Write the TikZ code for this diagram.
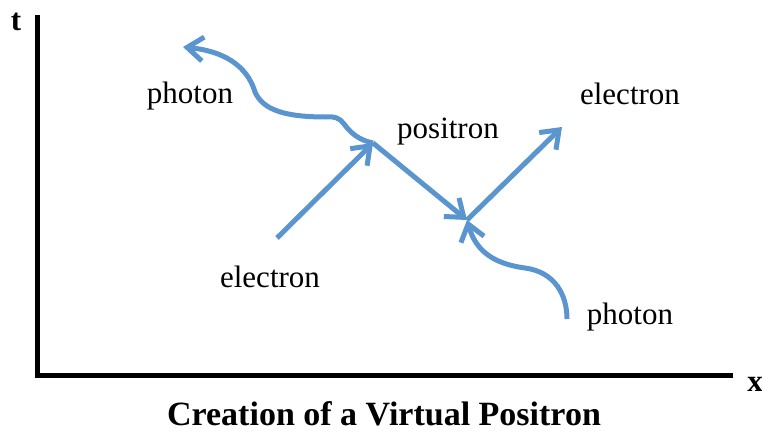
\documentclass[tikz,border=0pt]{standalone}
\usepackage{fontspec}
\setmainfont{Liberation Serif}
\usepackage{xcolor}
\definecolor{FeynBlue}{HTML}{5A95CF}
\usetikzlibrary{arrows.meta}

\begin{document}
\begin{tikzpicture}[x=1pt, y=-1pt,
    particle/.style={FeynBlue, line width=5pt, line cap=butt,
      -{Straight Barb[length=16pt, width=24pt, line width=5pt]}},
    axis/.style={black, line width=5pt, line join=miter},
    lbl/.style={font=\fontsize{31}{36}\selectfont, inner sep=0pt},
    axlbl/.style={font=\fontsize{31}{36}\selectfont\bfseries, inner sep=0pt}]
  \useasboundingbox (0,0) rectangle (762,433);
  % axes
  \coordinate (tTop) at (37,15);
  \coordinate (origin) at (37,375);
  \coordinate (xEnd) at (733,375);
  \draw[axis] (tTop) -- (origin) -- (xEnd);
  \node[axlbl] (tLbl) at (16,22) {t};
  \node[axlbl] (xLbl) at (755,384) {x};
  % vertices and free ends
  \coordinate (v1) at (373,143);
  \coordinate (v2) at (467,220);
  \coordinate (eIn) at (277,238);
  \coordinate (eOut) at (562,127);
  \coordinate (phOut) at (183,47);
  \coordinate (phIn) at (567,319);
  % lines
  \draw[particle] (eIn) -- (v1);
  \draw[particle] (v1) -- (v2);
  \draw[particle] (v2) -- (eOut);
  \draw[particle] (v1) .. controls (358,140) and (350,132) .. (344,124)
    .. controls (340,118) and (334,116) .. (326,117)
    .. controls (285,117) and (263,110) .. (255,92)
    .. controls (249,72) and (232,52) .. (phOut);
  \draw[particle] (phIn) .. controls (567,295) and (555,272) .. (525,268)
    .. controls (495,264) and (476,252) .. (v2);
  % labels
  \node[lbl] (photonA) at (190,96) {photon};
  \node[lbl] (positron) at (448,132) {positron};
  \node[lbl] (electronB) at (630,94) {electron};
  \node[lbl] (electronA) at (270,277) {electron};
  \node[lbl] (photonB) at (630,317) {photon};
  \node[font=\fontsize{34}{38}\selectfont\bfseries, inner sep=0pt] (title) at (384,414) {Creation of a Virtual Positron};
\end{tikzpicture}
\end{document}
